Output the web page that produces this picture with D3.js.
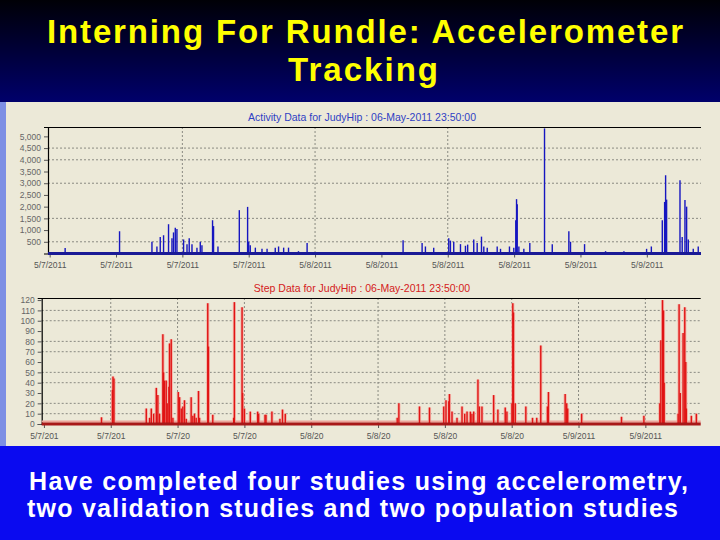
<!DOCTYPE html>
<html><head><meta charset="utf-8">
<script src="https://cdn.jsdelivr.net/npm/d3@7"></script>
<style>html,body{margin:0;padding:0;background:#000;} svg{display:block;}</style>
</head><body><svg id="c" width="720" height="540"></svg>
<script>
// ---------- text ----------
const titleLines = ["Interning For Rundle: Accelerometer", "Tracking"];
const footerLines = ["Have completed four studies using accelerometry,", "two validation studies and two population studies"];
const activityTitle = "Activity Data for JudyHip : 06-May-2011 23:50:00";
const stepTitle = "Step Data for JudyHip : 06-May-2011 23:50:00";

// ---------- axes (hours after 5/7/2011 00:00) ----------
const tickHours = [0, 6, 12, 18, 24, 30, 36, 42, 48, 54];
const activityTickLabels = ["5/7/2011","5/7/2011","5/7/2011","5/7/2011","5/8/2011","5/8/2011","5/8/2011","5/8/2011","5/9/2011","5/9/2011"];
const stepTickLabels = ["5/7/201","5/7/201","5/7/20","5/7/20","5/8/20","5/8/20","5/8/20","5/8/20","5/9/2011","5/9/2011"];
const activityYTicks = [500,1000,1500,2000,2500,3000,3500,4000,4500,5000];
const activityYGrid = [500,1500,3000,4000,4500];
const activityXGrid = [12,24,36];
const stepYTicks = [0,10,20,30,40,50,60,70,80,90,100,110,120];
const stepYGrid = [10,20,40,50,70,80,100,110];
const stepXGrid = [6,12,18,24,30,36,42,48,54];

// ---------- activity counts ----------
const activityHours = [1.4,6.32,9.25,9.7,10.0,10.3,10.75,11.06,11.2,11.36,11.51,12.11,12.42,12.62,12.87,13.32,13.62,13.77,14.73,14.82,15.22,17.15,17.9,18.0,18.14,18.6,19.2,19.66,20.4,20.7,21.16,21.6,22.5,23.28,
  31.96,33.68,33.98,34.73,36.09,36.24,36.54,37.15,37.6,37.8,38.35,38.66,39.05,39.26,39.57,40.47,40.77,41.58,41.97,42.15,42.22,42.28,42.43,42.88,43.42,44.75,45.45,46.95,47.1,48.37,50.27,51.93,53.98,54.41,55.4,55.61,55.7,55.79,57.0,57.2,57.45,57.6,57.75,58.2,58.65];
const activityCounts = [240,950,500,300,700,780,1250,650,900,1100,1050,600,400,650,400,250,500,350,1420,1170,300,1850,1990,500,350,250,200,200,250,300,250,250,100,450,
  570,450,300,250,650,550,500,400,330,380,600,450,720,300,250,300,200,300,250,1420,2320,2100,300,200,450,5340,400,950,500,400,100,100,200,300,1420,2200,3340,2300,3130,700,2280,2000,600,200,300];

// ---------- step counts ----------
const stepHours = [5.17,6.15,6.2,6.29,9.19,9.49,9.64,9.85,10.09,10.23,10.38,10.68,10.74,10.83,10.98,11.07,11.22,11.28,11.43,11.58,12.06,12.18,12.33,12.47,12.62,12.78,13.22,13.37,13.52,13.67,13.88,13.97,14.71,14.77,15.16,17.04,17.1,17.79,17.84,18.0,18.53,19.19,19.28,19.85,19.94,20.47,21.19,21.42,21.67,
  31.72,31.87,33.72,34.62,35.9,36.1,36.35,36.41,36.64,37.09,37.54,37.78,37.99,38.29,38.43,38.59,38.97,39.1,39.33,40.38,40.76,41.42,41.57,42.02,42.1,42.16,42.32,43.27,43.87,44.25,44.61,45.21,45.3,46.8,46.94,47.03,48.28,51.86,53.87,55.3,55.39,55.54,55.63,55.69,56.94,57.03,57.14,57.39,57.54,57.63,57.68,58.13,58.58];
const stepCounts = [6.5,33,46,44,15,6,15,10,35,28,10,87,50,42,42,20,36,78,82,6,31,26,15,17,23,5,26,8,10,6,32,6,117,75,9,6,118,113,30,15,12,12,10,9,9,12,5,14,10,
  6,20,17,16,17,23,22,29,12,6,17,10,12,12,10,12,43,17,17,28,14,16,12,20,117,108,20,17,6,6,76,17,31,29,20,15,10,7,8,20,81,120,110,40,10,116,30,88,113,60,15,8,10];

// ---------- drawing ----------
const svg = d3.select("#c");
const defs = svg.append("defs");
const g1 = defs.append("linearGradient").attr("id","topg").attr("x1",0).attr("y1",0).attr("x2",0).attr("y2",1);
g1.append("stop").attr("offset","0%").attr("stop-color","#000006");
g1.append("stop").attr("offset","100%").attr("stop-color","#00006c");

svg.append("rect").attr("x",0).attr("y",0).attr("width",720).attr("height",103).attr("fill","url(#topg)");
svg.append("rect").attr("x",0).attr("y",102).attr("width",720).attr("height",344).attr("fill","#ECE9D8");
svg.append("rect").attr("x",0).attr("y",102).attr("width",6).attr("height",344).attr("fill","#7d8fe4");
svg.append("rect").attr("x",0).attr("y",446).attr("width",720).attr("height",94).attr("fill","#0a0af0");

const bigFont = "'Liberation Sans Narrow', 'Arial Narrow', 'Liberation Sans', Arial, sans-serif";

// slide title
const titleSpec = [{x:47, y:43, w:636}, {x:288, y:81, w:150}];
svg.selectAll("text.title").data(titleLines).join("text").attr("class","title")
  .attr("x",(d,i)=>titleSpec[i].x).attr("y",(d,i)=>titleSpec[i].y)
  .attr("textLength",(d,i)=>titleSpec[i].w).attr("lengthAdjust","spacing")
  .attr("font-family",bigFont).attr("font-weight","bold")
  .attr("font-size",33).attr("fill","#ffff00").text(d=>d);

// footer
const footSpec = [{x:29, y:490, w:659}, {x:27, y:517, w:651}];
svg.selectAll("text.foot").data(footerLines).join("text").attr("class","foot")
  .attr("x",(d,i)=>footSpec[i].x).attr("y",(d,i)=>footSpec[i].y)
  .attr("textLength",(d,i)=>footSpec[i].w).attr("lengthAdjust","spacing")
  .attr("font-family",bigFont).attr("font-weight","bold")
  .attr("font-size",25).attr("fill","#ffffff").text(d=>d);

function chart(opts) {
  const {xDom, xRange, yDom, yRange, title, titleY, titleColor, yTicks, yGrid, xGrid, tickLabels, yLabelFmt, hours, values, color, halo, baseColor, baseHalo} = opts;
  const x = d3.scaleLinear().domain(xDom).range(xRange);
  const y = d3.scaleLinear().domain(yDom).range(yRange);
  const g = svg.append("g");
  g.append("text").attr("x",362).attr("y",titleY).attr("text-anchor","middle")
    .attr("font-family","Liberation Sans, Arial, sans-serif").attr("font-size",10.5)
    .attr("fill",titleColor).text(title);
  // grid
  g.selectAll("line.gy").data(yGrid).join("line").attr("x1",xRange[0]).attr("x2",xRange[1])
    .attr("y1",d=>y(d)).attr("y2",d=>y(d)).attr("stroke","#8a8a82").attr("stroke-dasharray","2,2").attr("stroke-width",1);
  g.selectAll("line.gx").data(xGrid).join("line").attr("x1",d=>x(d)).attr("x2",d=>x(d))
    .attr("y1",yRange[1]).attr("y2",yRange[0]).attr("stroke","#8a8a82").attr("stroke-dasharray","2,2").attr("stroke-width",1);
  // frame
  g.append("line").attr("x1",xRange[0]).attr("x2",xRange[1]).attr("y1",yRange[1]+0.5).attr("y2",yRange[1]+0.5).attr("stroke","#000").attr("stroke-width",1.2);
  // y axis
  const ya = d3.axisLeft(y).tickValues(yTicks).tickSize(4).tickFormat(yLabelFmt);
  const yg = g.append("g").attr("transform",`translate(${xRange[0]},0)`).call(ya);
  yg.select(".domain").attr("stroke","#000").attr("stroke-width",1.2);
  yg.selectAll("text").attr("font-family","Liberation Sans, Arial, sans-serif").attr("font-size",8.5).attr("fill","#666");
  yg.selectAll("line").attr("stroke","#555");
  // x axis
  const xa = d3.axisBottom(x).tickValues(tickHours).tickSize(3).tickFormat((d,i)=>tickLabels[i]);
  const xg = g.append("g").attr("transform",`translate(0,${yRange[0]+1})`).call(xa);
  xg.select(".domain").remove();
  xg.selectAll("text").attr("font-family","Liberation Sans, Arial, sans-serif").attr("font-size",8.5).attr("fill","#555").attr("dy","0.9em");
  xg.selectAll("line").attr("stroke","#555");
  // spikes
  if (halo) {
    g.selectAll("line.h").data(hours).join("line").attr("class","h")
      .attr("x1",d=>x(d)).attr("x2",d=>x(d)).attr("y1",y(0)).attr("y2",(d,i)=>y(values[i]))
      .attr("stroke",halo).attr("stroke-width",3.2);
  }
  if (baseHalo) {
    g.append("line").attr("x1",xRange[0]).attr("x2",xRange[1]).attr("y1",y(0)-2.5).attr("y2",y(0)-2.5)
      .attr("stroke",baseHalo).attr("stroke-width",2);
  }
  g.selectAll("line.s").data(hours).join("line").attr("class","s")
    .attr("x1",d=>x(d)).attr("x2",d=>x(d)).attr("y1",y(0)).attr("y2",(d,i)=>y(values[i]))
    .attr("stroke",color).attr("stroke-width",1.4);
  g.append("line").attr("x1",xRange[0]).attr("x2",xRange[1]).attr("y1",y(0)).attr("y2",y(0))
    .attr("stroke",baseColor).attr("stroke-width",3);
}

chart({xDom:[-0.15,58.9], xRange:[48,701], yDom:[0,5400], yRange:[253.5,127],
  title:activityTitle, titleY:121, titleColor:"#2f3fc4", yTicks:activityYTicks, yGrid:activityYGrid, xGrid:activityXGrid,
  tickLabels:activityTickLabels, yLabelFmt:d3.format(","), hours:activityHours, values:activityCounts,
  color:"#1616c0", halo:null, baseColor:"#1a1a96", baseHalo:null});

chart({xDom:[-0.2,58.97], xRange:[41.7,700.7], yDom:[0,122], yRange:[424,298],
  title:stepTitle, titleY:292, titleColor:"#d42020", yTicks:stepYTicks, yGrid:stepYGrid, xGrid:stepXGrid,
  tickLabels:stepTickLabels, yLabelFmt:d3.format("d"), hours:stepHours, values:stepCounts,
  color:"#e01414", halo:"#f3b4a8", baseColor:"#a81818", baseHalo:"#eda49a"});
</script></body></html>
